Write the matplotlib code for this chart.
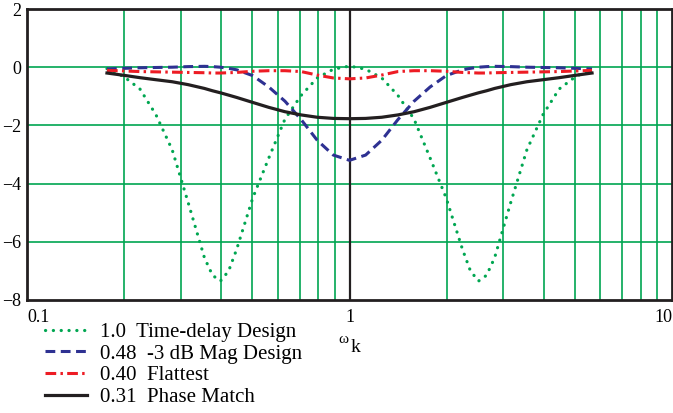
import matplotlib
matplotlib.use("Agg")
import matplotlib.pyplot as plt
from matplotlib.lines import Line2D

plt.rcParams['font.family'] = ['Liberation Serif', 'DejaVu Serif']

# frequency points (rad/s, normalised)
omega = [0.177, 0.2, 0.224, 0.251, 0.282, 0.316, 0.355, 0.376, 0.398, 0.422,
         0.447, 0.501, 0.562, 0.631, 0.708, 0.794, 0.891, 1.0,
         1.122, 1.259, 1.413, 1.585, 1.778, 1.995, 2.239, 2.371, 2.512,
         2.661, 2.818, 3.162, 3.548, 3.981, 4.467, 5.012, 5.65]

time_delay = [-0.05, -0.33, -0.75, -1.63, -2.84, -4.65, -6.55, -7.15, -7.35, -7.0,
              -6.25, -4.5, -3.12, -1.78, -0.97, -0.37, -0.07, 0.04,
              -0.07, -0.37, -0.97, -1.78, -3.12, -4.5, -6.25, -7.0, -7.35,
              -7.15, -6.55, -4.65, -2.84, -1.63, -0.75, -0.33, -0.05]

mag_3db = [-0.06, -0.04, -0.02, -0.01, 0.0, 0.02, 0.03, 0.02, 0.0, -0.04,
           -0.09, -0.29, -0.68, -1.17, -1.8, -2.51, -3.02, -3.2,
           -3.02, -2.51, -1.8, -1.17, -0.68, -0.29, -0.09, -0.04, 0.0,
           0.02, 0.03, 0.02, 0.0, -0.01, -0.02, -0.04, -0.06]

flattest = [-0.11, -0.13, -0.15, -0.16, -0.17, -0.18, -0.19, -0.2, -0.2, -0.19,
            -0.18, -0.14, -0.12, -0.12, -0.15, -0.27, -0.37, -0.4,
            -0.37, -0.27, -0.15, -0.12, -0.12, -0.14, -0.18, -0.19, -0.2,
            -0.2, -0.19, -0.18, -0.17, -0.16, -0.15, -0.13, -0.11]

phase_match = [-0.2, -0.28, -0.36, -0.43, -0.5, -0.6, -0.73, -0.81, -0.88, -0.96,
               -1.04, -1.21, -1.38, -1.53, -1.64, -1.72, -1.76, -1.77,
               -1.76, -1.72, -1.64, -1.53, -1.38, -1.21, -1.04, -0.96, -0.88,
               -0.81, -0.73, -0.6, -0.5, -0.43, -0.36, -0.28, -0.2]

labels = ["1.0  Time-delay Design", "0.48  -3 dB Mag Design",
          "0.40  Flattest", "0.31  Phase Match"]

green = '#00a651'
blue = '#2e3192'
red = '#ed1c24'
black = '#231f20'

dots = (0, (0.05, 2.4))
dashes = (0, (3.2, 1.8))
dashdot = (0, (3.5, 1.4, 0.8, 1.4))

fig = plt.figure(figsize=(6.73, 4.13), dpi=100)
ax = fig.add_axes([27 / 673, 1 - 300 / 413, 645 / 673, 291 / 413])

# grid: log minor decades in green, unity line in black
for d in [0.1, 1]:
    for m in range(2, 10):
        ax.axvline(d * m, color=green, lw=1.2, zorder=1)
for yv in [0, -2, -4, -6]:
    ax.axhline(yv, color=green, lw=1.2, zorder=1)
ax.axvline(1, color=black, lw=1.6, zorder=1)

ax.plot(omega, time_delay, color=green, lw=2.3, ls=dots,
        dash_capstyle='round', zorder=3)
ax.plot(omega, mag_3db, color=blue, lw=2.2, ls=dashes, zorder=3)
ax.plot(omega, flattest, color=red, lw=2.2, ls=dashdot, zorder=3)
ax.plot(omega, phase_match, color=black, lw=2.3, zorder=4)

ax.set_xscale('log')
ax.set_xlim(0.1, 10)
ax.set_ylim(-8, 2)
ax.set_yticks([2, 0, -2, -4, -6, -8])
ax.set_yticklabels(['2', '0', '\u22122', '\u22124', '\u22126', '\u22128'])
ax.tick_params(axis='y', length=0, pad=4, labelsize=13)
ax.set_xticks([])
ax.minorticks_off()
for s in ax.spines.values():
    s.set_linewidth(2.0)
    s.set_color(black)

# x tick labels
ax.text(0.1, -8.3, '0.1', ha='left', va='top', fontsize=13)
ax.text(1, -8.3, '1', ha='center', va='top', fontsize=13)
ax.text(10, -8.3, '10', ha='right', va='top', fontsize=13)

# axis label
fig.text(338 / 673, 1 - 343 / 413, '\u03c9', fontsize=11, ha='left', va='baseline')
fig.text(351 / 673, 1 - 352 / 413, 'k', fontsize=14, ha='left', va='baseline')

handles = [
    Line2D([], [], color=green, lw=2.3, ls=dots, dash_capstyle='round'),
    Line2D([], [], color=blue, lw=2.2, ls=dashes),
    Line2D([], [], color=red, lw=2.2, ls=dashdot),
    Line2D([], [], color=black, lw=2.3),
]
fig.legend(handles, labels, loc='upper left', bbox_to_anchor=(35 / 673, 1 - 312 / 413),
           frameon=False, fontsize=15, handlelength=2.0, handletextpad=0.6,
           labelspacing=0.1, borderpad=0)

fig.savefig('out.png', dpi=100)
